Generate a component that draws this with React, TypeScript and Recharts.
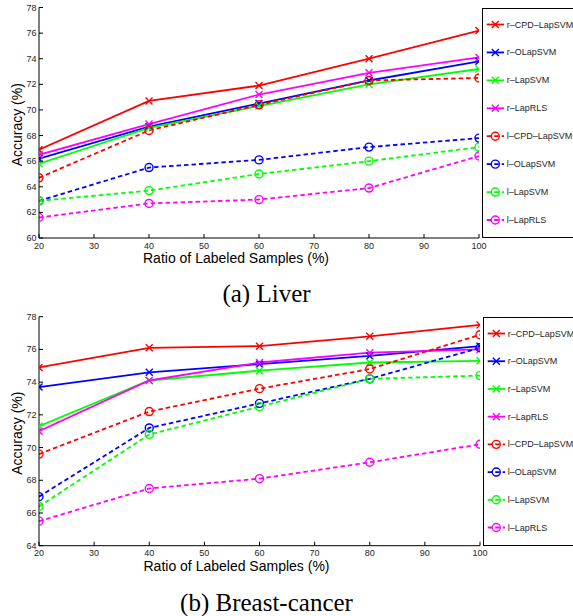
import { LineChart, Line, XAxis, YAxis, Legend } from "recharts";

const RATIOS = [20, 40, 60, 80, 100];
const X_TICKS = [20, 30, 40, 50, 60, 70, 80, 90, 100];
const LIVER_TICKS = [60, 62, 64, 66, 68, 70, 72, 74, 76, 78];
const BREAST_TICKS = [64, 66, 68, 70, 72, 74, 76, 78];

const NAMES = ["r–CPD–LapSVM", "r–OLapSVM", "r–LapSVM", "r–LapRLS", "l–CPD–LapSVM", "l–OLapSVM", "l–LapSVM", "l–LapRLS"];
const COLORS = ["#ff0000", "#0000ff", "#00ff00", "#ff00ff", "#ff0000", "#0000ff", "#00ff00", "#ff00ff"];

// (a) Liver
const LIVER_R_CPD = [66.9, 70.7, 71.9, 74.0, 76.2];
const LIVER_R_OLAP = [66.2, 68.7, 70.5, 72.3, 73.8];
const LIVER_R_LAPSVM = [65.8, 68.6, 70.3, 72.0, 73.2];
const LIVER_R_LAPRLS = [66.5, 68.9, 71.2, 72.9, 74.1];
const LIVER_L_CPD = [64.7, 68.4, 70.4, 72.3, 72.5];
const LIVER_L_OLAP = [62.9, 65.5, 66.1, 67.1, 67.8];
const LIVER_L_LAPSVM = [62.9, 63.7, 65.0, 66.0, 67.1];
const LIVER_L_LAPRLS = [61.6, 62.7, 63.0, 63.9, 66.4];

// (b) Breast-cancer
const BREAST_R_CPD = [74.9, 76.1, 76.2, 76.8, 77.5];
const BREAST_R_OLAP = [73.7, 74.6, 75.1, 75.6, 76.2];
const BREAST_R_LAPSVM = [71.3, 74.1, 74.7, 75.2, 75.3];
const BREAST_R_LAPRLS = [71.0, 74.1, 75.2, 75.8, 76.0];
const BREAST_L_CPD = [69.6, 72.2, 73.6, 74.8, 76.9];
const BREAST_L_OLAP = [67.0, 71.2, 72.7, 74.2, 76.1];
const BREAST_L_LAPSVM = [66.4, 70.8, 72.5, 74.2, 74.4];
const BREAST_L_LAPRLS = [65.5, 67.5, 68.1, 69.1, 70.2];

const LIVER = [LIVER_R_CPD, LIVER_R_OLAP, LIVER_R_LAPSVM, LIVER_R_LAPRLS, LIVER_L_CPD, LIVER_L_OLAP, LIVER_L_LAPSVM, LIVER_L_LAPRLS];
const BREAST = [BREAST_R_CPD, BREAST_R_OLAP, BREAST_R_LAPSVM, BREAST_R_LAPRLS, BREAST_L_CPD, BREAST_L_OLAP, BREAST_L_LAPSVM, BREAST_L_LAPRLS];

const FONT = "'Liberation Sans', Arial, sans-serif";
const TXT = "#262626";
const DASH = "4.5 3";

function toRows(series: number[][]) {
  return RATIOS.map((r, i) => {
    const row: any = { ratio: r };
    series.forEach((s, k) => (row["s" + k] = s[i]));
    return row;
  });
}

function Marker({ cx, cy, color, cross }: any) {
  if (cross) {
    const d = 3.5;
    return (
      <path d={`M${cx - d},${cy - d}L${cx + d},${cy + d}M${cx - d},${cy + d}L${cx + d},${cy - d}`}
        stroke={color} strokeWidth={1.4} fill="none" />
    );
  }
  return <circle cx={cx} cy={cy} r={4} stroke={color} strokeWidth={1.4} fill="none" />;
}

const tickBottom = (p: any) => (
  <g>
    <line x1={p.x} y1={p.y} x2={p.x} y2={p.y - 4} stroke="#000" />
    <text x={p.x} y={p.y + 7.5} textAnchor="middle" dominantBaseline="central" fontSize={9} fill={TXT} fontFamily={FONT}>{p.payload.value}</text>
  </g>
);
const tickLeft = (p: any) => (
  <g>
    <line x1={p.x} y1={p.y} x2={p.x + 4} y2={p.y} stroke="#000" />
    <text x={p.x - 2.5} y={p.y} textAnchor="end" dominantBaseline="central" fontSize={9} fill={TXT} fontFamily={FONT}>{p.payload.value}</text>
  </g>
);
const tickTop = (p: any) => <line x1={p.x} y1={p.y} x2={p.x} y2={p.y + 4} stroke="#000" />;
const tickRight = (p: any) => <line x1={p.x - 4} y1={p.y} x2={p.x} y2={p.y} stroke="#000" />;

function LegendBox({ height }: { height: number }) {
  const pad = 17.5;
  const step = (height - 2 * pad) / (NAMES.length - 1);
  return (
    <div style={{ width: 110, height, border: "1.5px solid #000", boxSizing: "border-box", background: "#fff" }}>
      <svg width={110} height={height} style={{ display: "block", marginLeft: -1.5, marginTop: -1.5 }}>
        {NAMES.map((n, i) => {
          const y = pad + i * step;
          return (
            <g key={n}>
              <line x1={4.7} x2={22} y1={y} y2={y} stroke={COLORS[i]} strokeWidth={1.8} strokeDasharray={i < 4 ? undefined : DASH} />
              <Marker cx={13.3} cy={y} color={COLORS[i]} cross={i < 4} />
              <text x={24.7} y={y} dominantBaseline="central" fontSize={9} fill={TXT} fontFamily={FONT}>{n}</text>
            </g>
          );
        })}
      </svg>
    </div>
  );
}

function Panel({ series, yTicks, top, mTop, mRight, xH, caption, capTop }: any) {
  const H = 280;
  const plotH = H - mTop - xH;
  const domain = [yTicks[0], yTicks[yTicks.length - 1]];
  return (
    <>
      <div style={{ position: "absolute", left: 0, top }}>
        <LineChart width={573} height={H} data={toRows(series)} margin={{ top: mTop, right: mRight, bottom: 0, left: 0 }}>
          <XAxis dataKey="ratio" type="number" domain={[20, 100]} ticks={X_TICKS} allowDataOverflow interval={0}
            height={xH} tickSize={0} tickMargin={0} tickLine={false} axisLine={{ stroke: "#000" }} tick={tickBottom}
            label={(p: any) => {
              const vb = p.viewBox || { x: 39, y: 238, width: 440 };
              return (
                <text x={vb.x + vb.width / 2 - 23} y={vb.y + 20} textAnchor="middle" dominantBaseline="central" fontSize={14} fill="#000" fontFamily={FONT}>
                  Ratio of Labeled Samples (%)
                </text>
              );
            }} />
          <XAxis xAxisId="top" orientation="top" type="number" domain={[20, 100]} ticks={X_TICKS} allowDataOverflow interval={0}
            height={0} tickSize={0} tickMargin={0} tickLine={false} axisLine={{ stroke: "#000" }} tick={tickTop} />
          <YAxis type="number" domain={domain} ticks={yTicks} allowDataOverflow interval={0}
            width={39} tickSize={0} tickMargin={0} tickLine={false} axisLine={{ stroke: "#000" }} tick={tickLeft}
            label={() => (
              <text x={17} y={mTop + plotH / 2 + 2} transform={`rotate(-90 17 ${mTop + plotH / 2 + 2})`} textAnchor="middle"
                dominantBaseline="central" fontSize={14} fill="#000" fontFamily={FONT}>
                Accuracy (%)
              </text>
            )} />
          <YAxis yAxisId="right" orientation="right" type="number" domain={domain} ticks={yTicks} allowDataOverflow interval={0}
            width={0} tickSize={0} tickMargin={0} tickLine={false} axisLine={{ stroke: "#000" }} tick={tickRight} />
          {NAMES.map((n, k) => (
            <Line key={n} dataKey={"s" + k} name={n} stroke={COLORS[k]} strokeWidth={1.8}
              strokeDasharray={k < 4 ? undefined : DASH} isAnimationActive={false}
              dot={(p: any) => <Marker key={`d${k}-${p.index}`} cx={p.cx} cy={p.cy} color={COLORS[k]} cross={k < 4} />}
              activeDot={false} />
          ))}
          <Legend layout="vertical" align="center" verticalAlign="middle"
            wrapperStyle={{ left: 573 - mRight + 3, top: mTop, width: 110, height: plotH }}
            content={() => <LegendBox height={plotH} />} />
        </LineChart>
      </div>
      <div style={{ position: "absolute", left: 0, width: 533, top: capTop, textAlign: "center", fontFamily: "'Liberation Serif', 'Times New Roman', serif", fontSize: 25, lineHeight: "25px", color: "#000" }}>
        {caption}
      </div>
    </>
  );
}

export default function App() {
  return (
    <div style={{ position: "absolute", left: 0, top: 0, width: 573, height: 616, overflow: "hidden", background: "#fff" }}>
      <Panel series={LIVER} yTicks={LIVER_TICKS} top={0} mTop={7.5} mRight={94} xH={42} caption="(a) Liver" capTop={280.5} />
      <Panel series={BREAST} yTicks={BREAST_TICKS} top={309} mTop={7.7} mRight={93} xH={43.3} caption="(b) Breast-cancer" capTop={589.5} />
    </div>
  );
}
